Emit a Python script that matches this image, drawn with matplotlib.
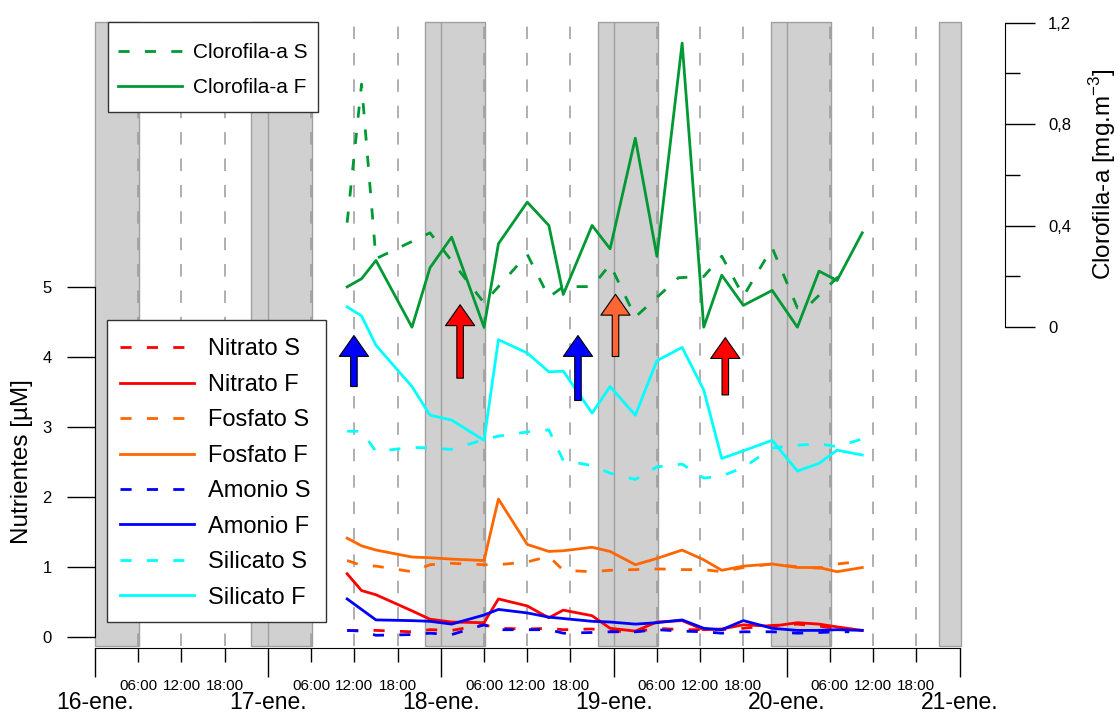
import matplotlib
matplotlib.use('Agg')
import matplotlib.pyplot as plt
from matplotlib.ticker import FixedLocator, FixedFormatter
from matplotlib.patches import Rectangle

plt.rcParams['font.family'] = ['Liberation Sans', 'DejaVu Sans']
plt.rcParams['mathtext.fontset'] = 'custom'
plt.rcParams['mathtext.rm'] = 'Liberation Sans'
plt.rcParams['lines.scale_dashes'] = False

# ---------------- data (time in hours since 16-ene 00:00) ----------------
day_labels = ['16-ene.', '17-ene.', '18-ene.', '19-ene.', '20-ene.', '21-ene.']
day_hours = [0, 24, 48, 72, 96, 120]
hour_labels = ['06:00', '12:00', '18:00']

night_start = [0, 21.7, 45.8, 69.8, 93.8, 117.1]
night_end = [6.1, 30.1, 54.2, 78.2, 102.1, 120.2]

t_F = [35, 37, 39, 44, 46.5, 49.5, 54, 56, 60, 63, 65, 69, 71.5, 75, 78, 81.5,
       84.5, 87, 90, 94, 97.5, 100.5, 103, 106.5]
t_S = [35, 37, 39, 44, 46.5, 49.5, 54, 56, 60, 63, 65, 69, 71.5, 75, 78, 81.5,
       84.5, 87, 90, 94, 97.5, 100.5, 103, 104.7]
t_chl_S = [35, 37, 39, 46.5, 54, 60, 63, 65, 69, 71.5, 75, 81, 84.5, 87, 90, 94,
           97.5, 98.7, 103, 104.7]

nitrato_S = [0.09, 0.09, 0.09, 0.07, 0.10, 0.09, 0.17, 0.12, 0.11, 0.12, 0.10, 0.11,
             0.08, 0.07, 0.12, 0.10, 0.10, 0.10, 0.12, 0.16, 0.18, 0.15, 0.12, 0.10]
nitrato_F = [0.90, 0.66, 0.60, 0.37, 0.25, 0.21, 0.20, 0.54, 0.44, 0.27, 0.38, 0.30,
             0.12, 0.08, 0.21, 0.23, 0.10, 0.11, 0.17, 0.15, 0.20, 0.18, 0.14, 0.09]
fosfato_S = [1.09, 1.02, 1.01, 0.93, 1.03, 1.05, 1.03, 1.03, 1.07, 1.15, 0.95, 0.93,
             0.95, 0.96, 0.97, 0.96, 0.96, 0.93, 0.99, 1.04, 1.00, 0.98, 1.04, 1.06]
fosfato_F = [1.41, 1.30, 1.24, 1.14, 1.13, 1.11, 1.09, 1.97, 1.32, 1.22, 1.23, 1.28,
             1.22, 1.03, 1.12, 1.24, 1.10, 0.95, 1.01, 1.04, 0.99, 0.99, 0.93, 0.99]
amonio_S = [0.09, 0.08, 0.02, 0.03, 0.05, 0.03, 0.17, 0.10, 0.10, 0.10, 0.05, 0.06,
            0.07, 0.07, 0.10, 0.08, 0.07, 0.05, 0.07, 0.07, 0.05, 0.06, 0.07, 0.07]
amonio_F = [0.54, 0.39, 0.24, 0.23, 0.22, 0.18, 0.31, 0.39, 0.34, 0.28, 0.26, 0.22,
            0.21, 0.18, 0.20, 0.24, 0.12, 0.10, 0.23, 0.12, 0.09, 0.09, 0.10, 0.09]
silicato_S = [2.94, 2.94, 2.65, 2.71, 2.70, 2.68, 2.82, 2.87, 2.93, 2.96, 2.52, 2.45,
              2.34, 2.25, 2.43, 2.47, 2.27, 2.30, 2.42, 2.70, 2.74, 2.76, 2.72, 2.83]
silicato_F = [4.72, 4.59, 4.17, 3.58, 3.17, 3.10, 2.81, 4.25, 4.06, 3.79, 3.80, 3.20,
              3.58, 3.17, 3.95, 4.14, 3.53, 2.55, 2.66, 2.81, 2.37, 2.48, 2.67, 2.60]

chl_S = [0.412, 0.958, 0.27, 0.372, 0.096, 0.287, 0.118, 0.16, 0.16, 0.247, 0.04,
         0.195, 0.2, 0.28, 0.122, 0.313, 0.076, 0.076, 0.195, 0.204]
chl_F = [0.159, 0.191, 0.263, 0.0, 0.234, 0.355, 0.0, 0.329, 0.493, 0.401, 0.129,
         0.401, 0.309, 0.745, 0.279, 1.12, 0.0, 0.205, 0.086, 0.145, 0.0, 0.221,
         0.184, 0.372]

arrow_x = [35.94, 50.68, 67.04, 72.25, 87.49]
arrow_tip = [4.31, 4.75, 4.31, 4.90, 4.28]
arrow_tail = [3.58, 3.70, 3.38, 4.01, 3.46]
arrow_color = ['#0000FF', '#FF0000', '#0000FF', '#FF6633', '#FF0000']

# ---------------- styles ----------------
C_RED, C_ORA, C_BLU, C_CYA, C_GRN = '#FF0000', '#FF6600', '#0000FF', '#00FFFF', '#009933'
LW = 2.0
DASH = (8, 11)

W, H = 1118, 715
fig = plt.figure(figsize=(W / 100, H / 100), dpi=100)
ax = fig.add_axes([95 / W, 69.3 / H, 864.5 / W, 623.7 / H])
ax.set_xlim(0, 120)
ax.set_ylim(-0.129, 8.797)

# night bands
for s, e in zip(night_start, night_end):
    ax.axvspan(s, e, facecolor='#D0D0D0', edgecolor='#A0A0A0', lw=1.0, zorder=0.5,
               clip_on=False)
# midnight lines inside bands
for d in day_hours[1:-1]:
    ax.axvline(d, color='#A0A0A0', lw=1.0, zorder=0.6)

# dashed vertical lines every 6 h
grid_hours = [h for h in range(6, 120, 6) if h % 24 != 0]
for g in grid_hours:
    ax.axvline(g, color='#9A9A9A', lw=1.1, dashes=(9, 10), zorder=0.7)

# nutrient lines
nut_lines = []
nut_lines += ax.plot(t_S, nitrato_S, color=C_RED, lw=LW, dashes=DASH, label='Nitrato S', zorder=3)
nut_lines += ax.plot(t_F, nitrato_F, color=C_RED, lw=LW, label='Nitrato F', zorder=3)
nut_lines += ax.plot(t_S, fosfato_S, color=C_ORA, lw=LW, dashes=DASH, label='Fosfato S', zorder=3)
nut_lines += ax.plot(t_F, fosfato_F, color=C_ORA, lw=LW, label='Fosfato F', zorder=3)
nut_lines += ax.plot(t_S, amonio_S, color=C_BLU, lw=LW, dashes=DASH, label='Amonio S', zorder=3)
nut_lines += ax.plot(t_F, amonio_F, color=C_BLU, lw=LW, label='Amonio F', zorder=3)
nut_lines += ax.plot(t_F, silicato_S, color=C_CYA, lw=LW, dashes=DASH, label='Silicato S', zorder=3)
nut_lines += ax.plot(t_F, silicato_F, color=C_CYA, lw=LW, label='Silicato F', zorder=3)

# axes styling (main)
for sp in ['top', 'right']:
    ax.spines[sp].set_visible(False)
ax.spines['left'].set_bounds(0, 5)
ax.spines['bottom'].set_bounds(0, 120)
ax.spines['bottom'].set_position(('outward', 1.4))
ax.set_yticks([0, 1, 2, 3, 4, 5])
ax.set_yticklabels(['0', '1', '2', '3', '4', '5'])
ax.xaxis.set_major_locator(FixedLocator(day_hours))
ax.xaxis.set_major_formatter(FixedFormatter(day_labels))
minor_pos = [h for h in range(6, 120, 6) if h % 24 != 0]
ax.xaxis.set_minor_locator(FixedLocator(minor_pos))
ax.xaxis.set_minor_formatter(FixedFormatter(hour_labels * 5))
ax.tick_params(axis='x', which='major', length=21, width=1, pad=10.5, labelsize=16.5)
ax.tick_params(axis='x', which='minor', length=10.4, width=1, pad=12.5, labelsize=11)
ax.tick_params(axis='y', which='major', length=20, width=1, pad=11, labelsize=12)
ax.text(-0.0844, 0.2945, 'Nutrientes [µM]', transform=ax.transAxes, rotation=90,
        ha='center', va='center', fontsize=17.5)

# chlorophyll axis
ax2 = ax.twinx()
ax2.set_ylim(-1.2555, 1.203)
chl_lines = []
chl_lines += ax2.plot(t_chl_S, chl_S, color=C_GRN, lw=LW, dashes=DASH, label='Clorofila-a S')
chl_lines += ax2.plot(t_F, chl_F, color=C_GRN, lw=LW, label='Clorofila-a F')
for sp in ['top', 'left', 'bottom']:
    ax2.spines[sp].set_visible(False)
ax2.spines['right'].set_position(('axes', 1.0526))
ax2.spines['right'].set_bounds(0, 1.2)
ax2.yaxis.set_major_locator(FixedLocator([0, 0.4, 0.8, 1.2]))
ax2.yaxis.set_major_formatter(FixedFormatter(['0', '0,4', '0,8', '1,2']))
ax2.yaxis.set_minor_locator(FixedLocator([0.2, 0.6, 1.0]))
ax2.tick_params(axis='y', which='major', length=21.6, width=1, pad=9.4, labelsize=12)
ax2.tick_params(axis='y', which='minor', length=10.8, width=1)
ax2.text(1.166, 0.7555, 'Clorofila-a [mg.m$^{-3}$]', transform=ax.transAxes,
         rotation=90, ha='center', va='center', fontsize=17.5)

# legend boxes (frames drawn separately to match the reference padding)
ax2.add_patch(Rectangle((107.7 / W, 1 - 112.3 / H), 210 / W, 90 / H,
                        transform=fig.transFigure, facecolor='white',
                        edgecolor='#333333', lw=1.0, zorder=4.5, clip_on=False))
ax2.add_patch(Rectangle((107.3 / W, 1 - 622.3 / H), 218.7 / W, 302.3 / H,
                        transform=fig.transFigure, facecolor='white',
                        edgecolor='#333333', lw=1.0, zorder=4.5, clip_on=False))

leg1 = ax2.legend(handles=chl_lines, loc='center left',
                  bbox_to_anchor=(118 / W, 1 - 70 / H),
                  bbox_transform=fig.transFigure, borderaxespad=0, borderpad=0,
                  fontsize=15, handlelength=3.08, handletextpad=0.53,
                  labelspacing=0.75, frameon=False)
leg1.set_zorder(6)
ax2.add_artist(leg1)

leg2 = ax2.legend(handles=nut_lines, loc='center left',
                  bbox_to_anchor=(120 / W, 1 - 473.5 / H),
                  bbox_transform=fig.transFigure, borderaxespad=0, borderpad=0,
                  fontsize=17, handlelength=3.14, handletextpad=0.59,
                  labelspacing=0.57, frameon=False)
leg2.set_zorder(6)

# arrows
for x, yt, yb, c in zip(arrow_x, arrow_tip, arrow_tail, arrow_color):
    ax2.annotate('', xy=(x, yt), xytext=(x, yb), xycoords=ax.transData,
                 textcoords=ax.transData, zorder=6,
                 arrowprops=dict(arrowstyle='simple,head_length=1.5,head_width=2.1,tail_width=0.47',
                                 mutation_scale=10, fc=c, ec='black', lw=0.8,
                                 shrinkA=0, shrinkB=0))

fig.savefig('out.png', dpi=100)
